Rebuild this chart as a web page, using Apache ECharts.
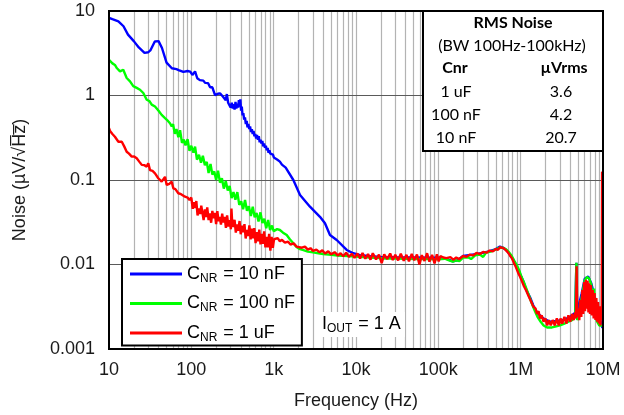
<!DOCTYPE html>
<html>
<head>
<meta charset="utf-8">
<script src="https://cdn.jsdelivr.net/npm/echarts@6/dist/echarts.min.js"></script>
<style>
  html, body { margin: 0; padding: 0; background: #fff; }
  #chart { width: 624px; height: 415px; }
</style>
</head>
<body>
<div id="chart"></div>
<script>
// Output noise spectral density (µV/√Hz) vs frequency (Hz) for three noise-reduction capacitors.

const xTicks = [10, 100, 1000, 10000, 100000, 1000000, 10000000];
const xTickLabels = ['10', '100', '1k', '10k', '100k', '1M', '10M'];
const yTicks = [0.001, 0.01, 0.1, 1, 10];
const yTickLabels = ['0.001', '0.01', '0.1', '1', '10'];

const seriesNames = ['C_NR = 10 nF', 'C_NR = 100 nF', 'C_NR = 1 uF'];
const seriesColors = ['#0000ff', '#00ff00', '#ff0000'];

// C_NR = 10 nF
const noise10nF = [
  [10, 8.3], [11, 8.0], [13, 7.55], [15, 6.6], [17, 5.25], [20, 4.4], [23, 3.7], [27, 3.2], [30, 3.25],
  [32, 3.45], [36, 4.35], [40, 4.4], [44, 3.65], [50, 2.45], [58, 2.1], [66, 2.05], [70, 2.0], [80, 1.9],
  [84, 1.85], [90, 1.95], [97, 1.92], [103, 1.75], [111, 1.93], [118, 1.6], [127, 1.52], [140, 1.5],
  [147, 1.41], [160, 1.4], [169, 1.25], [180, 1.25], [185, 1.22], [194, 1.01], [210, 1.05], [223, 1.06],
  [240, 0.98], [250, 0.98], [262, 0.88], [270, 1.04], [280, 0.82], [290, 0.86], [300, 0.72], [310, 0.82],
  [318, 0.70], [327, 0.79], [335, 0.68], [344, 0.84], [352, 0.70], [361, 0.80], [370, 0.72], [378, 0.88],
  [386, 0.74], [394, 0.90], [402, 0.66], [410, 0.74], [419, 0.58], [428, 0.62], [438, 0.52], [448, 0.55],
  [459, 0.46], [470, 0.50], [481, 0.42], [493, 0.46], [505, 0.40], [517, 0.43], [530, 0.37], [543, 0.40],
  [556, 0.35], [570, 0.38], [584, 0.33], [598, 0.35], [613, 0.31], [628, 0.34], [644, 0.30], [660, 0.33],
  [676, 0.28], [693, 0.30], [710, 0.27], [728, 0.29], [746, 0.25], [765, 0.27], [784, 0.24], [804, 0.255],
  [824, 0.225], [845, 0.24], [866, 0.21], [888, 0.225], [910, 0.205], [933, 0.215], [956, 0.195],
  [980, 0.2], [1005, 0.185], [1040, 0.189], [1100, 0.175], [1190, 0.165], [1260, 0.152],
  [1400, 0.14], [1734, 0.1], [2090, 0.0664], [2760, 0.0483], [3650, 0.0367], [4200, 0.0307], [4830, 0.0223],
  [5830, 0.0195], [7710, 0.01486], [9270, 0.0136], [11200, 0.0129], [15000, 0.0125], [20000, 0.0123],
  [30000, 0.0122], [50000, 0.0121], [80000, 0.012], [100000, 0.012], [120000, 0.0119], [150000, 0.0109],
  [170000, 0.0112], [200000, 0.0126], [300000, 0.0133], [400000, 0.0142], [500000, 0.0152], [560000, 0.0163],
  [620000, 0.0157], [680000, 0.0146], [740000, 0.0131], [810000, 0.0115], [900000, 0.0094], [980000, 0.0078],
  [1080000, 0.0063], [1170000, 0.005], [1300000, 0.0041], [1420000, 0.0033], [1570000, 0.0027],
  [1720000, 0.0025], [1880000, 0.0023], [2270000, 0.0021], [2740000, 0.00215], [3300000, 0.0022],
  [4000000, 0.0024], [4600000, 0.0027], [4750000, 0.0105], [4850000, 0.0027], [5500000, 0.0045],
  [6000000, 0.0068], [6600000, 0.0072], [7200000, 0.006], [8000000, 0.004], [9000000, 0.0025],
  [9800000, 0.0018], [10000000, 0.0018]
];

// C_NR = 100 nF
const noise100nF = [
  [10, 2.65], [11, 2.4], [11.8, 2.3], [12.5, 2.1], [13.6, 1.93], [14.9, 2.02], [16.4, 1.61], [18, 1.47],
  [19.7, 1.29], [21.7, 1.23], [23.8, 1.17], [26.1, 1.07], [28.7, 0.89], [31, 0.86], [33, 0.78], [36.2, 0.74],
  [38, 0.71], [40, 0.66], [43.6, 0.59], [47.9, 0.54], [52, 0.50], [55, 0.47], [57.8, 0.43],
  [60, 0.457], [63, 0.352], [66, 0.40], [69.5, 0.321], [73, 0.388], [77, 0.275], [81, 0.30], [85, 0.257],
  [90, 0.305], [95, 0.222], [100, 0.254], [106, 0.21], [111, 0.248], [117, 0.174], [124, 0.199], [131, 0.16],
  [138, 0.193], [146, 0.15], [154, 0.164], [162, 0.121], [171, 0.155], [180, 0.116], [190, 0.126],
  [200, 0.10], [211, 0.129], [223, 0.093], [235, 0.105], [248, 0.079], [262, 0.097], [277, 0.075],
  [292, 0.085], [308, 0.061], [325, 0.072], [343, 0.0585], [362, 0.072], [382, 0.0507], [403, 0.056],
  [425, 0.045], [449, 0.058], [474, 0.0432], [500, 0.0488], [528, 0.0374], [557, 0.0482], [588, 0.0361],
  [620, 0.0406], [655, 0.0323], [691, 0.0414], [730, 0.031], [770, 0.0347], [812, 0.0268], [857, 0.0336],
  [905, 0.0255], [955, 0.0289], [1000, 0.0248], [1040, 0.0256], [1100, 0.0262], [1190, 0.0256],
  [1300, 0.0238], [1440, 0.0223], [1580, 0.0198], [1734, 0.0178], [1910, 0.016], [2090, 0.0152],
  [2300, 0.0148], [2600, 0.0142], [3000, 0.0139], [3500, 0.0136], [4000, 0.0133], [5000, 0.013],
  [6000, 0.0128], [8000, 0.0126], [10000, 0.0124], [13000, 0.0122], [17000, 0.012], [22000, 0.0118],
  [30000, 0.0118], [40000, 0.0117], [55000, 0.0116], [75000, 0.0116], [100000, 0.0115], [120000, 0.0117],
  [135000, 0.0112], [150000, 0.0108], [165000, 0.0112], [180000, 0.0110], [200000, 0.0121],
  [230000, 0.0122], [250000, 0.0116], [280000, 0.0128], [320000, 0.0131], [350000, 0.0123],
  [380000, 0.0138], [430000, 0.0142], [480000, 0.0148], [540000, 0.0157], [600000, 0.0158],
  [660000, 0.0152], [720000, 0.0140], [780000, 0.0126], [840000, 0.0110], [900000, 0.0098],
  [960000, 0.0085], [1020000, 0.0072], [1090000, 0.0062], [1170000, 0.0052], [1260000, 0.0043],
  [1360000, 0.0035], [1470000, 0.0029], [1600000, 0.0024], [1750000, 0.0021], [1900000, 0.0019],
  [2100000, 0.0018], [2400000, 0.0018], [2700000, 0.00185], [3000000, 0.0019], [3400000, 0.002],
  [3800000, 0.0021], [4200000, 0.0022], [4600000, 0.0024], [4750000, 0.0105], [4850000, 0.0022],
  [5200000, 0.0028], [5600000, 0.0045], [6000000, 0.0065], [6400000, 0.0071], [6800000, 0.0068],
  [7200000, 0.0058], [7600000, 0.0030], [7800000, 0.0052], [8000000, 0.0025], [8500000, 0.0021],
  [9000000, 0.0019], [9500000, 0.0018], [10000000, 0.0019]
];

// C_NR = 1 uF
const noise1uF = [
  [10, 0.41], [10.3, 0.38], [11, 0.35], [11.8, 0.325], [13, 0.284], [14.3, 0.284], [15.3, 0.25],
  [16.4, 0.216], [17.5, 0.205], [18.9, 0.189], [20.2, 0.19], [21.7, 0.181], [23.3, 0.165], [25, 0.151],
  [26.8, 0.15], [28.7, 0.144], [30, 0.158], [31.5, 0.131], [33.8, 0.128], [36.2, 0.12], [38, 0.115],
  [39.7, 0.105], [41.5, 0.108], [43.6, 0.0955], [46, 0.1], [47.9, 0.109], [50.2, 0.0873], [54, 0.09],
  [57.8, 0.0955], [60.4, 0.0798], [64, 0.078], [69.5, 0.0697], [75, 0.068], [83.8, 0.0634], [90, 0.062],
  [95, 0.058],
  [100, 0.062], [104, 0.0455], [107, 0.0546], [111, 0.0465], [115, 0.0564], [119, 0.038], [123, 0.046],
  [128, 0.0396], [132, 0.0496], [137, 0.0399], [141, 0.0336], [146, 0.0449], [151, 0.0365], [156, 0.0474],
  [162, 0.0336], [168, 0.0403], [174, 0.0312], [180, 0.0431], [186, 0.0353], [193, 0.0408], [200, 0.030],
  [207, 0.0428], [214, 0.0326], [221, 0.0366], [229, 0.0297], [237, 0.0399], [245, 0.0315], [254, 0.0366],
  [263, 0.0272], [272, 0.0381], [282, 0.0282], [292, 0.0335], [302, 0.0261], [307, 0.046], [312, 0.0342],
  [324, 0.0277], [335, 0.0338], [347, 0.0238], [360, 0.0298], [372, 0.025], [385, 0.0327], [398, 0.0228],
  [412, 0.0289], [427, 0.0241], [442, 0.0301], [457, 0.0203], [473, 0.0257], [490, 0.0218], [507, 0.0291],
  [525, 0.0198], [543, 0.0265], [562, 0.0204], [582, 0.0269], [603, 0.0179], [624, 0.0241], [646, 0.0188],
  [669, 0.0259], [692, 0.0173], [716, 0.0231], [741, 0.0175], [767, 0.0247], [794, 0.0159], [822, 0.0212],
  [851, 0.016], [881, 0.0231], [912, 0.0146], [944, 0.0212], [977, 0.0158], [1010, 0.0199],
  [1050, 0.0195], [1120, 0.0205], [1190, 0.0188], [1260, 0.0196], [1370, 0.0181], [1500, 0.0186],
  [1600, 0.0172], [1750, 0.0178], [1900, 0.0163], [2000, 0.0168], [2200, 0.0158], [2400, 0.0163],
  [2600, 0.0150], [2800, 0.0156], [3000, 0.0145], [3300, 0.0150], [3600, 0.0140], [3900, 0.0147],
  [4200, 0.0135], [4600, 0.0143], [5000, 0.0132], [5500, 0.0140], [6000, 0.0128], [6500, 0.0136],
  [7000, 0.0125], [7600, 0.0138], [8200, 0.0123], [8900, 0.0134], [9600, 0.0120],
  [10400, 0.0135], [11200, 0.0118], [12000, 0.0137], [13000, 0.0117], [14000, 0.0133], [15000, 0.0114],
  [16000, 0.0136], [17500, 0.0115], [19000, 0.0131], [20500, 0.0104], [22000, 0.0132], [24000, 0.0116],
  [26000, 0.0135], [28000, 0.0113], [30000, 0.0130], [32500, 0.0112], [35000, 0.0134], [38000, 0.0111],
  [41000, 0.0130], [44000, 0.0109], [47500, 0.0133], [51000, 0.0112], [55000, 0.0131], [59000, 0.0100],
  [63000, 0.0129], [68000, 0.0110], [73000, 0.0136], [78000, 0.0108], [84000, 0.0130], [90000, 0.0103],
  [96000, 0.0132], [101000, 0.0109], [106000, 0.0126],
  [115000, 0.0121], [125000, 0.0119], [140000, 0.0122], [152000, 0.0114], [165000, 0.0121],
  [180000, 0.0116], [200000, 0.0126], [220000, 0.0123], [240000, 0.0131], [265000, 0.0128],
  [290000, 0.0137], [320000, 0.0133], [350000, 0.0141], [385000, 0.0138], [420000, 0.0146],
  [460000, 0.0143], [500000, 0.0153], [530000, 0.0149], [560000, 0.0160], [590000, 0.0152],
  [620000, 0.0156], [660000, 0.0148], [700000, 0.0139], [740000, 0.0128], [780000, 0.0119],
  [830000, 0.0104], [880000, 0.0092], [930000, 0.0080], [980000, 0.0072], [1040000, 0.0063],
  [1100000, 0.0055], [1170000, 0.0049], [1250000, 0.0042], [1330000, 0.0037], [1420000, 0.0032],
  [1520000, 0.0030], [1580000, 0.0026], [1650000, 0.0028], [1720000, 0.0023], [1800000, 0.0025],
  [1900000, 0.0021], [2000000, 0.0023], [2100000, 0.0019], [2200000, 0.0022], [2320000, 0.0019],
  [2450000, 0.0022], [2600000, 0.0019], [2750000, 0.0023], [2900000, 0.0019], [3050000, 0.0023],
  [3200000, 0.0020], [3400000, 0.0024], [3600000, 0.0020], [3800000, 0.0025], [4000000, 0.0021],
  [4200000, 0.0026], [4400000, 0.0022], [4600000, 0.0027], [4700000, 0.0023], [4780000, 0.0095],
  [4860000, 0.0024], [5000000, 0.0030], [5150000, 0.0022], [5300000, 0.0038], [5450000, 0.0024],
  [5600000, 0.0050], [5750000, 0.0026], [5900000, 0.0062], [6050000, 0.0028], [6200000, 0.0066],
  [6350000, 0.0030], [6500000, 0.0064], [6650000, 0.0027], [6800000, 0.0060], [6950000, 0.0026],
  [7100000, 0.0057], [7300000, 0.0025], [7500000, 0.0050], [7700000, 0.0023], [7900000, 0.0046],
  [8100000, 0.0022], [8300000, 0.0040], [8500000, 0.0021], [8700000, 0.0036], [8900000, 0.0020],
  [9100000, 0.0032], [9300000, 0.0019], [9500000, 0.0028], [9650000, 0.0022], [9750000, 0.125],
  [10000000, 0.12]
];

const tableRows = [
  ['1 uF', '3.6'],
  ['100 nF', '4.2'],
  ['10 nF', '20.7']
];

const chart = echarts.init(document.getElementById('chart'), null, { renderer: 'canvas' });

const FONT = 'Liberation Sans, Arial, sans-serif';
const TABLE_FONT = 'Lato, Liberation Sans, sans-serif';

// Grid lines: light vertical lines at every 1..9 step of each decade, darker horizontal decade lines.
const gridLines = [];
for (let d = 10; d < 1e7; d *= 10) {
  for (let k = 1; k <= 9; k++) {
    const v = d * k;
    if (v <= 10) continue;
    gridLines.push({ xAxis: v, lineStyle: { color: '#b3b3b3', width: 1.2, type: 'solid' } });
  }
}
[0.01, 0.1, 1].forEach(v => {
  gridLines.push({ yAxis: v, lineStyle: { color: '#5a5a5a', width: 1, type: 'solid' } });
});

const data = [noise10nF, noise100nF, noise1uF];

const series = data.map((d, i) => ({
  name: seriesNames[i],
  type: 'line',
  data: d,
  showSymbol: false,
  symbol: 'none',
  lineStyle: { color: seriesColors[i], width: 2.4 },
  itemStyle: { color: seriesColors[i] },
  z: 2 + i,
  animation: false,
  markLine: i === 0 ? {
    silent: true,
    symbol: ['none', 'none'],
    label: { show: false },
    z: 1,
    animation: false,
    data: gridLines
  } : undefined
}));

function legendLabel(name) {
  const rest = name.replace('C_NR', '');
  return '{c|C}{s|NR}{c|' + rest + '}';
}

function tableText(x, y, text, bold) {
  return {
    type: 'text', x: x, y: y, z: 21,
    style: {
      text: text, font: (bold ? 'bold ' : '') + '16px ' + TABLE_FONT,
      fill: '#000', align: 'center', verticalAlign: 'middle'
    }
  };
}

const tableElements = [
  { type: 'rect', z: 20, shape: { x: 423, y: 11, width: 180, height: 140 },
    style: { fill: '#fff', stroke: '#000', lineWidth: 2 } },
  tableText(513, 23, 'RMS Noise', true),
  tableText(512, 46, '(BW 100Hz-100kHz)', false),
  tableText(455, 68, 'Cnr', true),
  tableText(564, 68, 'µVrms', true)
].concat(tableRows.flatMap((r, i) => [
  tableText(456, 92 + i * 22.8, r[0], false),
  tableText(561, 92 + i * 22.8, r[1], false)
]));

chart.setOption({
  animation: false,
  backgroundColor: '#ffffff',
  grid: {
    left: 109, right: 21, top: 11, bottom: 66,
    show: true, borderColor: '#000', borderWidth: 2, backgroundColor: 'transparent', z: 10
  },
  xAxis: {
    type: 'log', logBase: 10, min: 10, max: 10000000, splitNumber: 6,
    name: 'Frequency (Hz)', nameLocation: 'middle', nameGap: 43,
    nameTextStyle: { fontFamily: FONT, fontSize: 18, color: '#1a1a1a' },
    axisLine: { show: true, lineStyle: { color: '#000', width: 2 } },
    axisTick: { show: false },
    splitLine: { show: false },
    axisLabel: {
      fontFamily: FONT, fontSize: 18, color: '#1a1a1a', margin: 12,
      formatter: v => {
        const idx = xTicks.findIndex(t => Math.abs(Math.log10(t) - Math.log10(v)) < 1e-6);
        return idx >= 0 ? xTickLabels[idx] : '';
      }
    },
    z: 10
  },
  yAxis: {
    type: 'log', logBase: 10, min: 0.001, max: 10, splitNumber: 4,
    name: 'Noise (µV/√H\u0305z\u0305)', nameLocation: 'middle', nameGap: 80, nameRotate: 90,
    nameTextStyle: { fontFamily: FONT, fontSize: 18, color: '#1a1a1a' },
    axisLine: { show: true, lineStyle: { color: '#000', width: 2 } },
    axisTick: { show: false },
    splitLine: { show: false },
    axisLabel: {
      fontFamily: FONT, fontSize: 18, color: '#1a1a1a', margin: 14,
      formatter: v => {
        const idx = yTicks.findIndex(t => Math.abs(Math.log10(t) - Math.log10(v)) < 1e-6);
        return idx >= 0 ? yTickLabels[idx] : '';
      }
    },
    z: 10
  },
  legend: {
    orient: 'vertical',
    left: 122, top: 259,
    backgroundColor: '#fff',
    borderColor: '#000', borderWidth: 2, borderRadius: 0,
    padding: [6, 7, 2, 8],
    itemWidth: 52, itemHeight: 3, itemGap: 10,
    icon: 'rect',
    data: seriesNames,
    formatter: legendLabel,
    selectedMode: false,
    z: 20,
    textStyle: {
      rich: {
        c: { fontFamily: FONT, fontSize: 18, color: '#000', lineHeight: 20 },
        s: { fontFamily: FONT, fontSize: 12, color: '#000', padding: [9, 1, 0, 0] }
      }
    }
  },
  graphic: tableElements.concat([
    {
      type: 'text', z: 20, x: 319, y: 312,
      style: {
        text: '{c|I}{s|OUT}{c| = 1 A}',
        backgroundColor: '#fff',
        padding: [2, 4, 2, 3],
        rich: {
          c: { fontFamily: FONT, fontSize: 18, fill: '#000', lineHeight: 20 },
          s: { fontFamily: FONT, fontSize: 12, fill: '#000', padding: [9, 1, 0, 0] }
        }
      }
    }
  ]),
  series: series
});
</script>
</body>
</html>
